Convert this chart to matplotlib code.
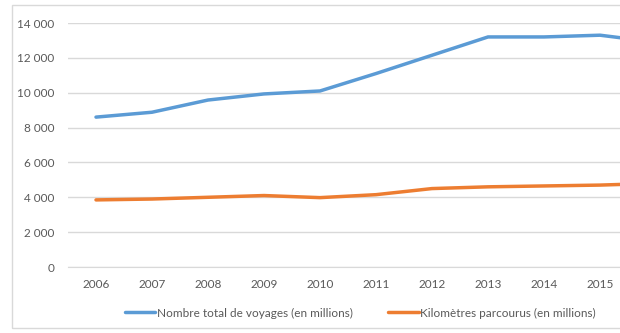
import matplotlib.pyplot as plt
from matplotlib.patches import Rectangle
from matplotlib.ticker import FuncFormatter

plt.rcParams['font.family'] = ['Lato', 'DejaVu Sans']

# données (la figure d'origine est coupée à droite, 2016 hors cadre)
annees = ['2006', '2007', '2008', '2009', '2010', '2011', '2012', '2013', '2014', '2015', '2016']
voyages = [8600, 8880, 9580, 9930, 10100, 11100, 12150, 13200, 13200, 13300, 12900]
kilometres = [3850, 3900, 4000, 4100, 3980, 4150, 4500, 4600, 4650, 4700, 4800]

bleu = '#5b9bd5'
orange = '#ed7d31'
gris = '#595959'

W, H = 620, 333
fig = plt.figure(figsize=(W / 100, H / 100), dpi=100)

# cadre gris clair autour du graphique
fig.patches.append(Rectangle((12 / W, 1 - 328 / H), 1.2, (328 - 5) / H,
                             transform=fig.transFigure, fill=False,
                             edgecolor='#d9d9d9', linewidth=1))

ax = fig.add_axes([68 / W, 1 - 267 / H, 11 * 56 / W, (267 - 23) / H])
x = list(range(len(annees)))
l1, = ax.plot(x, voyages, color=bleu, linewidth=2.5, solid_capstyle='round',
              label='Nombre total de voyages (en millions)')
l2, = ax.plot(x, kilometres, color=orange, linewidth=2.5, solid_capstyle='round',
              label='Kilomètres parcourus (en millions)')

ax.set_xlim(-0.5, len(annees) - 0.5)
ax.set_ylim(0, 14000)
ax.set_yticks(range(0, 14001, 2000))
ax.yaxis.set_major_formatter(FuncFormatter(lambda v, p: f'{int(v):,}'.replace(',', ' ')))
# seules les années visibles dans la figure
ax.set_xticks(x[:10])
ax.set_xticklabels(annees[:10])
ax.grid(axis='y', color='#d9d9d9', linewidth=1)
ax.set_axisbelow(True)
for s in ['top', 'right', 'left']:
    ax.spines[s].set_visible(False)
ax.spines['bottom'].set_color('#d9d9d9')
ax.tick_params(axis='both', length=0, labelsize=8.5, labelcolor=gris)
ax.tick_params(axis='y', pad=10)
ax.tick_params(axis='x', pad=9)

fig.legend(handles=[l1, l2], loc='center', bbox_to_anchor=(360 / W, 1 - 313 / H),
           ncol=2, frameon=False, fontsize=8.5, labelcolor=gris,
           handlelength=2.6, handletextpad=0.1, columnspacing=3.0)

fig.savefig('out.png', dpi=100)
